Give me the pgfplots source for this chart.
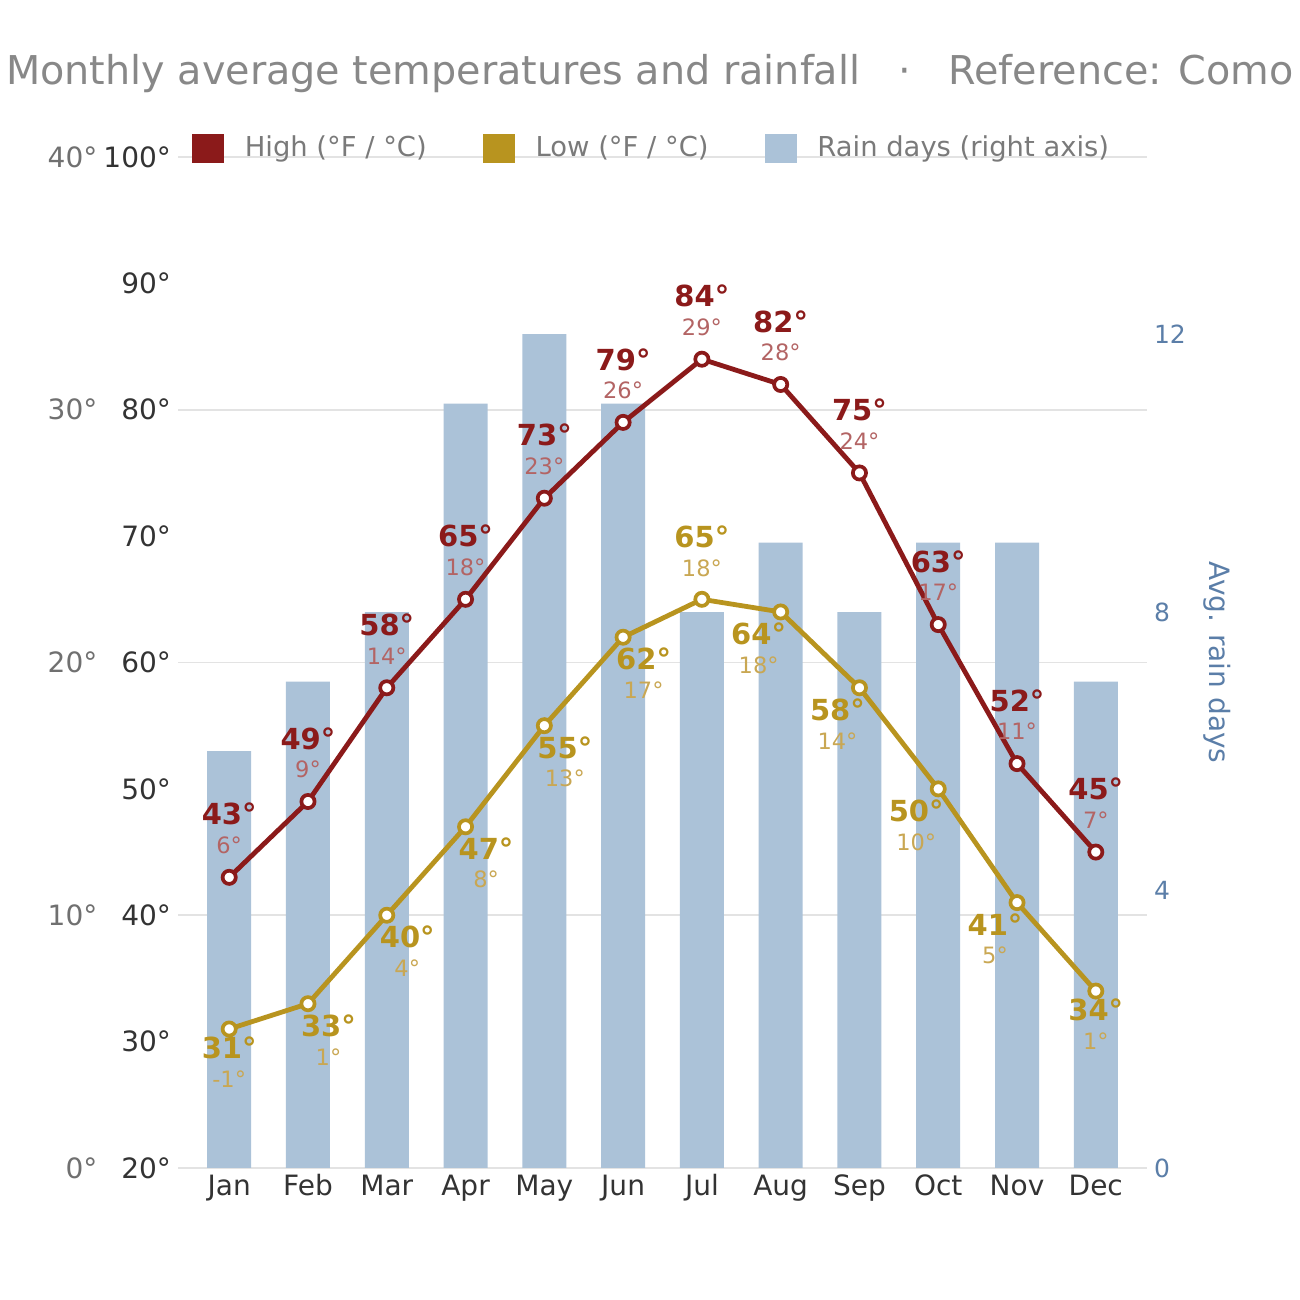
\documentclass[border=0pt]{standalone}
\usepackage{pgfplots}
\pgfplotsset{compat=1.18}
\usepackage{pgfplotstable}
\usepackage{fontspec}
\setmainfont{DejaVu Sans}
\definecolor{hicol}{HTML}{8B1A1A}
\definecolor{hiccol}{HTML}{B36464}
\definecolor{locol}{HTML}{B8941F}
\definecolor{loccol}{HTML}{C9A753}
\definecolor{barcol}{HTML}{ABC2D8}
\definecolor{raincol}{HTML}{5B7EA8}
\definecolor{titlecol}{HTML}{888888}
\definecolor{leggray}{HTML}{7A7A7A}
\definecolor{ccol}{HTML}{707070}
\definecolor{fcol}{HTML}{333333}
\definecolor{gridcol}{HTML}{E3E3E3}

\pgfplotstableread{
x hi hic lo loc lx ly lcy rain
0 43 6 31 -1 0 -9.5 -25 6
1 49 9 33 1 10.25 -11 -26.5 7
2 58 14 40 4 10.25 -11 -26.5 8
3 65 18 47 8 10.25 -11 -26.5 11
4 73 23 55 13 10.25 -11 -26.5 12
5 79 26 62 17 10.25 -11 -26.5 11
6 84 29 65 18 0 31 15.5 8
7 82 28 64 18 -11 -11 -26.5 9
8 75 24 58 14 -11 -11 -26.5 8
9 63 17 50 10 -11 -11 -26.5 9
10 52 11 41 5 -11 -11 -26.5 9
11 45 7 34 1 0 -9.5 -25 7
}\data

\pgfplotsset{
  /pgf/number format/assume math mode=true,
  /pgf/number format/1000 sep={},
  base/.style={scale only axis, width=484.5pt, height=505.5pt,
    at={(0pt,0pt)}, anchor=south west, xmin=-0.65, xmax=11.65,
    axis line style={draw=none}, major tick length=0pt, clip=false},
}

\begin{document}
\begin{tikzpicture}
% Celsius labels + grid
\begin{axis}[base, ymin=0, ymax=40, ytick={0,10,...,40},
  yticklabel={\pgfmathprintnumber{\tick}°},
  yticklabel style={text=ccol, font=\fontsize{14}{16}\selectfont, xshift=-36.8pt},
  ymajorgrids, grid style={gridcol, line width=0.8pt}, hide x axis]
\end{axis}
% Rain bars
\begin{axis}[base, ymin=0, ymax=14.55, axis y line*=right, hide x axis,
  ytick={0,4,8,12},
  yticklabel style={text=raincol, font=\fontsize{12.5}{15}\selectfont},
  ylabel={Avg. rain days},
  ylabel style={at={(axis description cs:1.0723,0.5)}, anchor=center, rotate=180,
    text=raincol, font=\fontsize{14}{16}\selectfont}]
\addplot[ybar, bar width=22pt, fill=barcol, draw=none] table[x=x,y=rain]{\data};
\end{axis}
% Temperatures
\begin{axis}[base, ymin=20, ymax=100, ytick={20,30,...,100},
  yticklabel={\pgfmathprintnumber{\tick}°},
  yticklabel style={text=fcol, font=\fontsize{14}{16}\selectfont},
  xtick={0,...,11},
  xticklabels={Jan,Feb,Mar,Apr,May,Jun,Jul,Aug,Sep,Oct,Nov,Dec},
  xticklabel style={text=fcol, font=\fontsize{14}{16}\selectfont, anchor=base, yshift=-13.5pt},
  legend columns=3,
  legend style={at={(0.01445,1.0089)}, anchor=west, draw=none, fill=none,
    inner sep=0pt, outer sep=0pt, nodes={inner sep=0pt},
    font=\fontsize{13.7}{16}\selectfont, text=leggray,
    /tikz/every odd column/.append style={column sep=10.5pt},
    /tikz/every even column/.append style={column sep=28pt}},
  legend cell align=left]
\addlegendimage{legend image code/.code={\fill[hicol] (0pt,-7pt) rectangle (15.5pt,7pt);}}
\addlegendentry{High (°F / °C)}
\addlegendimage{legend image code/.code={\fill[locol] (0pt,-7pt) rectangle (15.5pt,7pt);}}
\addlegendentry{Low (°F / °C)}
\addlegendimage{legend image code/.code={\fill[barcol] (0pt,-7pt) rectangle (15.5pt,7pt);}}
\addlegendentry{Rain days (right axis)}

\addplot[forget plot, hicol, line width=2.4pt, mark=*, mark size=3.3pt,
  mark options={fill=white, draw=hicol, line width=1.85pt, solid}] table[x=x,y=hi]{\data};
\addplot[forget plot, locol, line width=2.4pt, mark=*, mark size=3.3pt,
  mark options={fill=white, draw=locol, line width=1.85pt, solid}] table[x=x,y=lo]{\data};

% High labels
\addplot[forget plot, draw=none, mark=none, point meta=explicit symbolic,
  nodes near coords={\pgfplotspointmeta°},
  every node near coord/.style={anchor=center, inner sep=0pt, text=hicol,
    font=\fontsize{14.5}{17}\selectfont\bfseries, yshift=31.5pt}]
  table[x=x,y=hi,meta=hi]{\data};
\addplot[forget plot, draw=none, mark=none, point meta=explicit symbolic,
  nodes near coords={\pgfplotspointmeta°},
  every node near coord/.style={anchor=center, inner sep=0pt, text=hiccol,
    font=\fontsize{11.25}{13}\selectfont, yshift=16pt}]
  table[x=x,y=hi,meta=hic]{\data};
% Low labels
\addplot[forget plot, draw=none, mark=none, point meta=explicit symbolic,
  visualization depends on={\thisrow{lx}\as\lxs},
  visualization depends on={\thisrow{ly}\as\lys},
  nodes near coords={\pgfplotspointmeta°},
  every node near coord/.style={anchor=center, inner sep=0pt, text=locol,
    font=\fontsize{14.5}{17}\selectfont\bfseries, xshift=\lxs pt, yshift=\lys pt}]
  table[x=x,y=lo,meta=lo]{\data};
\addplot[forget plot, draw=none, mark=none, point meta=explicit symbolic,
  visualization depends on={\thisrow{lx}\as\lxc},
  visualization depends on={\thisrow{lcy}\as\lyc},
  nodes near coords={\pgfplotspointmeta°},
  every node near coord/.style={anchor=center, inner sep=0pt, text=loccol,
    font=\fontsize{11.25}{13}\selectfont, xshift=\lxc pt, yshift=\lyc pt}]
  table[x=x,y=lo,meta=loc]{\data};
\end{axis}
\node[anchor=base, text=titlecol, font=\fontsize{19.85}{24}\selectfont, inner sep=0pt]
  at (236pt,541.5pt) {Monthly average temperatures and rainfall\ \ \ ·\ \ \ Reference: Como};
\pgfresetboundingbox
\useasboundingbox (-89pt,-66pt) rectangle (561pt,584pt);
\end{tikzpicture}
\end{document}
